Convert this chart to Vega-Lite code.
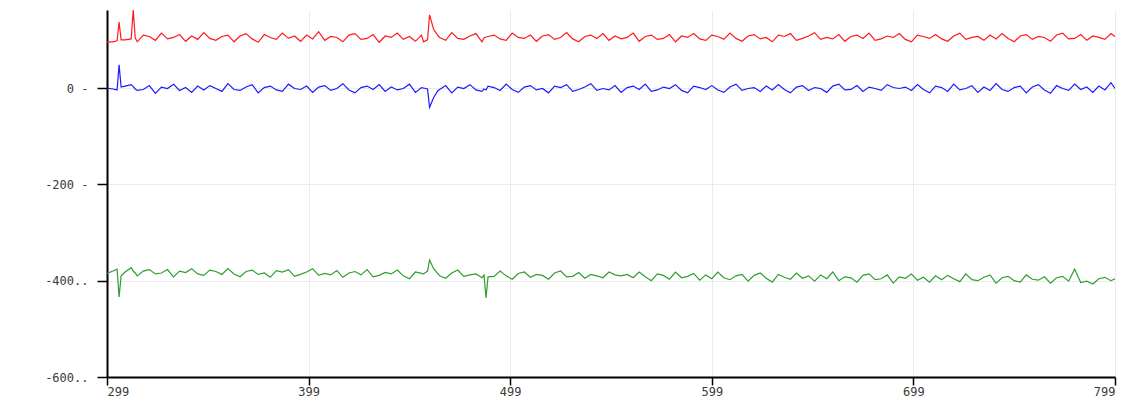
{
  "$schema": "https://vega.github.io/schema/vega-lite/v6.json",
  "width": 1008,
  "height": 367,
  "autosize": {"type": "none"},
  "padding": {"left": 107, "top": 10, "right": 24, "bottom": 28},
  "background": "white",
  "config": {
    "view": {"stroke": null},
    "axis": {"labelFont": "DejaVu Sans Mono", "labelFontSize": 12, "labelColor": "#3a3a3a", "gridColor": "#ececec", "gridWidth": 1, "domainColor": "#000000", "domainWidth": 2, "tickColor": "#000000", "tickWidth": 1.5}
  },
  "data": {"values": [
    {"x":299,"r":96,"b":0,"g":-385},{"x":302,"r":96,"b":-2,"g":-380},{"x":304,"r":98,"b":-4,"g":-376},{"x":305,"r":137,"b":48,"g":-434},{"x":306,"r":100,"b":2,"g":-390},{"x":308,"r":100,"b":4,"g":-382},{"x":311,"r":102,"b":7,"g":-373},{"x":312,"r":162,"b":3,"g":-380},{"x":313,"r":104,"b":-2,"g":-384},{"x":314,"r":96,"b":-5,"g":-390},
    {"x":317,"r":110,"b":-3,"g":-380},{"x":320,"r":107,"b":5,"g":-377},{"x":323,"r":99,"b":-11,"g":-386},{"x":326,"r":114,"b":2,"g":-384},{"x":329,"r":102,"b":-1,"g":-377},{"x":332,"r":105,"b":8,"g":-392},{"x":335,"r":111,"b":-5,"g":-380},{"x":338,"r":97,"b":1,"g":-383},{"x":341,"r":108,"b":-9,"g":-375},{"x":344,"r":101,"b":4,"g":-386},
    {"x":347,"r":115,"b":-4,"g":-389},{"x":350,"r":103,"b":5,"g":-378},{"x":353,"r":99,"b":-1,"g":-381},{"x":356,"r":107,"b":-7,"g":-387},{"x":359,"r":110,"b":9,"g":-375},{"x":362,"r":96,"b":-3,"g":-386},{"x":365,"r":108,"b":-5,"g":-392},{"x":368,"r":113,"b":2,"g":-381},{"x":371,"r":102,"b":7,"g":-378},{"x":374,"r":95,"b":-10,"g":-387},
    {"x":377,"r":111,"b":1,"g":-384},{"x":380,"r":105,"b":4,"g":-393},{"x":383,"r":101,"b":-4,"g":-379},{"x":386,"r":114,"b":-7,"g":-382},{"x":389,"r":103,"b":8,"g":-377},{"x":392,"r":108,"b":-1,"g":-391},{"x":395,"r":97,"b":-3,"g":-387},{"x":398,"r":110,"b":4,"g":-382},{"x":401,"r":102,"b":-9,"g":-375},{"x":404,"r":117,"b":2,"g":-389},
    {"x":407,"r":99,"b":5,"g":-385},{"x":410,"r":107,"b":-5,"g":-388},{"x":413,"r":105,"b":-1,"g":-379},{"x":416,"r":96,"b":9,"g":-393},{"x":419,"r":110,"b":-4,"g":-384},{"x":422,"r":113,"b":-10,"g":-381},{"x":425,"r":101,"b":1,"g":-388},{"x":428,"r":103,"b":4,"g":-377},{"x":431,"r":111,"b":-3,"g":-392},{"x":434,"r":95,"b":7,"g":-389},
    {"x":437,"r":108,"b":-7,"g":-383},{"x":440,"r":105,"b":2,"g":-386},{"x":443,"r":114,"b":-4,"g":-378},{"x":446,"r":101,"b":-1,"g":-390},{"x":449,"r":107,"b":8,"g":-396},{"x":452,"r":97,"b":-9,"g":-382},{"x":455,"r":110,"b":1,"g":-385},{"x":456,"r":96,"b":0,"g":-386},{"x":458,"r":100,"b":-2,"g":-380},{"x":459,"r":152,"b":-40,"g":-357},
    {"x":461,"r":122,"b":-20,"g":-375},{"x":463,"r":110,"b":-6,"g":-385},{"x":464,"r":105,"b":-3,"g":-390},{"x":467,"r":99,"b":5,"g":-395},{"x":470,"r":115,"b":-10,"g":-384},{"x":473,"r":103,"b":2,"g":-378},{"x":476,"r":101,"b":-1,"g":-391},{"x":479,"r":108,"b":7,"g":-388},{"x":482,"r":113,"b":-4,"g":-386},{"x":485,"r":96,"b":-7,"g":-394},
    {"x":486,"r":104,"b":-2,"g":-388},{"x":487,"r":106,"b":-4,"g":-436},{"x":488,"r":107,"b":4,"g":-392},{"x":491,"r":110,"b":1,"g":-391},{"x":494,"r":102,"b":-5,"g":-380},{"x":497,"r":99,"b":8,"g":-390},{"x":500,"r":114,"b":-3,"g":-397},{"x":503,"r":105,"b":-9,"g":-385},{"x":506,"r":103,"b":2,"g":-382},{"x":509,"r":110,"b":5,"g":-393},
    {"x":512,"r":97,"b":-4,"g":-387},{"x":515,"r":108,"b":-1,"g":-389},{"x":518,"r":111,"b":-10,"g":-397},{"x":521,"r":101,"b":4,"g":-384},{"x":524,"r":105,"b":1,"g":-380},{"x":527,"r":115,"b":7,"g":-392},{"x":530,"r":102,"b":-7,"g":-391},{"x":533,"r":96,"b":-3,"g":-383},{"x":536,"r":107,"b":2,"g":-395},{"x":539,"r":110,"b":9,"g":-387},
    {"x":542,"r":103,"b":-5,"g":-390},{"x":545,"r":113,"b":-1,"g":-394},{"x":548,"r":99,"b":-4,"g":-382},{"x":551,"r":108,"b":5,"g":-388},{"x":554,"r":102,"b":-9,"g":-390},{"x":557,"r":105,"b":1,"g":-387},{"x":560,"r":114,"b":4,"g":-394},{"x":563,"r":97,"b":-3,"g":-382},{"x":566,"r":107,"b":8,"g":-392},{"x":569,"r":110,"b":-7,"g":-400},
    {"x":572,"r":101,"b":-4,"g":-386},{"x":575,"r":103,"b":2,"g":-389},{"x":578,"r":111,"b":-1,"g":-397},{"x":581,"r":96,"b":7,"g":-382},{"x":584,"r":108,"b":-5,"g":-394},{"x":587,"r":105,"b":-10,"g":-391},{"x":590,"r":113,"b":4,"g":-385},{"x":593,"r":102,"b":1,"g":-399},{"x":596,"r":99,"b":-3,"g":-388},{"x":599,"r":110,"b":5,"g":-396},
    {"x":602,"r":107,"b":-4,"g":-382},{"x":605,"r":101,"b":-9,"g":-394},{"x":608,"r":114,"b":2,"g":-398},{"x":611,"r":103,"b":8,"g":-390},{"x":614,"r":97,"b":-5,"g":-387},{"x":617,"r":108,"b":-1,"g":-401},{"x":620,"r":111,"b":1,"g":-389},{"x":623,"r":102,"b":-7,"g":-384},{"x":626,"r":105,"b":4,"g":-395},{"x":629,"r":96,"b":-4,"g":-403},
    {"x":632,"r":110,"b":7,"g":-387},{"x":635,"r":107,"b":-3,"g":-393},{"x":638,"r":113,"b":-10,"g":-397},{"x":641,"r":99,"b":2,"g":-384},{"x":644,"r":103,"b":5,"g":-395},{"x":647,"r":108,"b":-5,"g":-390},{"x":650,"r":115,"b":1,"g":-401},{"x":653,"r":101,"b":-1,"g":-388},{"x":656,"r":105,"b":-9,"g":-396},{"x":659,"r":102,"b":4,"g":-382},
    {"x":662,"r":111,"b":8,"g":-400},{"x":665,"r":97,"b":-4,"g":-392},{"x":668,"r":107,"b":-3,"g":-394},{"x":671,"r":110,"b":5,"g":-403},{"x":674,"r":103,"b":-7,"g":-389},{"x":677,"r":114,"b":2,"g":-386},{"x":680,"r":99,"b":-1,"g":-398},{"x":683,"r":102,"b":-5,"g":-396},{"x":686,"r":108,"b":7,"g":-388},{"x":689,"r":105,"b":1,"g":-405},
    {"x":692,"r":113,"b":-1,"g":-392},{"x":695,"r":101,"b":2,"g":-395},{"x":698,"r":96,"b":-5,"g":-386},{"x":701,"r":110,"b":7,"g":-399},{"x":704,"r":107,"b":-3,"g":-393},{"x":707,"r":103,"b":-10,"g":-403},{"x":710,"r":111,"b":4,"g":-390},{"x":713,"r":102,"b":1,"g":-398},{"x":716,"r":97,"b":-7,"g":-389},{"x":719,"r":108,"b":8,"g":-396},
    {"x":722,"r":114,"b":-4,"g":-402},{"x":725,"r":101,"b":-1,"g":-386},{"x":728,"r":105,"b":5,"g":-398},{"x":731,"r":107,"b":-9,"g":-400},{"x":734,"r":99,"b":2,"g":-393},{"x":737,"r":110,"b":-5,"g":-388},{"x":740,"r":102,"b":9,"g":-405},{"x":743,"r":113,"b":-3,"g":-394},{"x":746,"r":103,"b":-7,"g":-391},{"x":749,"r":96,"b":1,"g":-400},
    {"x":752,"r":108,"b":4,"g":-403},{"x":755,"r":111,"b":-10,"g":-388},{"x":758,"r":101,"b":2,"g":-397},{"x":761,"r":107,"b":7,"g":-399},{"x":764,"r":105,"b":-4,"g":-392},{"x":767,"r":97,"b":-11,"g":-405},{"x":770,"r":110,"b":5,"g":-394},{"x":773,"r":114,"b":-1,"g":-391},{"x":776,"r":102,"b":-5,"g":-401},{"x":779,"r":103,"b":8,"g":-376},
    {"x":782,"r":111,"b":-3,"g":-404},{"x":785,"r":99,"b":2,"g":-401},{"x":788,"r":108,"b":-9,"g":-407},{"x":791,"r":105,"b":4,"g":-396},{"x":794,"r":101,"b":-4,"g":-393},{"x":797,"r":113,"b":11,"g":-400},{"x":799,"r":107,"b":-1,"g":-396}
  ]},
  "transform": [{"fold": ["r", "b", "g"], "as": ["series", "value"]}],
  "mark": {"type": "line", "strokeWidth": 1.2, "clip": true, "interpolate": "linear"},
  "encoding": {
    "x": {
      "field": "x", "type": "quantitative",
      "scale": {"domain": [299, 799], "nice": false, "zero": false},
      "axis": {"title": null, "values": [299, 399, 499, 599, 699, 799], "format": "d", "tickSize": 8, "labelPadding": 1, "grid": true}
    },
    "y": {
      "field": "value", "type": "quantitative",
      "scale": {"domain": [-600, 162], "nice": false, "zero": false},
      "axis": {"title": null, "values": [-600, -400, -200, 0], "tickSize": 10, "labelPadding": 9, "grid": true,
        "labelExpr": "datum.value == 0 ? '0 -' : datum.value == -200 ? '-200 -' : datum.value == -400 ? '-400..' : '-600..'"}
    },
    "color": {
      "field": "series", "type": "nominal",
      "scale": {"domain": ["r", "b", "g"], "range": ["#ff1a1a", "#1a1aff", "#2e9e2e"]},
      "legend": null
    },
    "detail": {"field": "series"}
  }
}
